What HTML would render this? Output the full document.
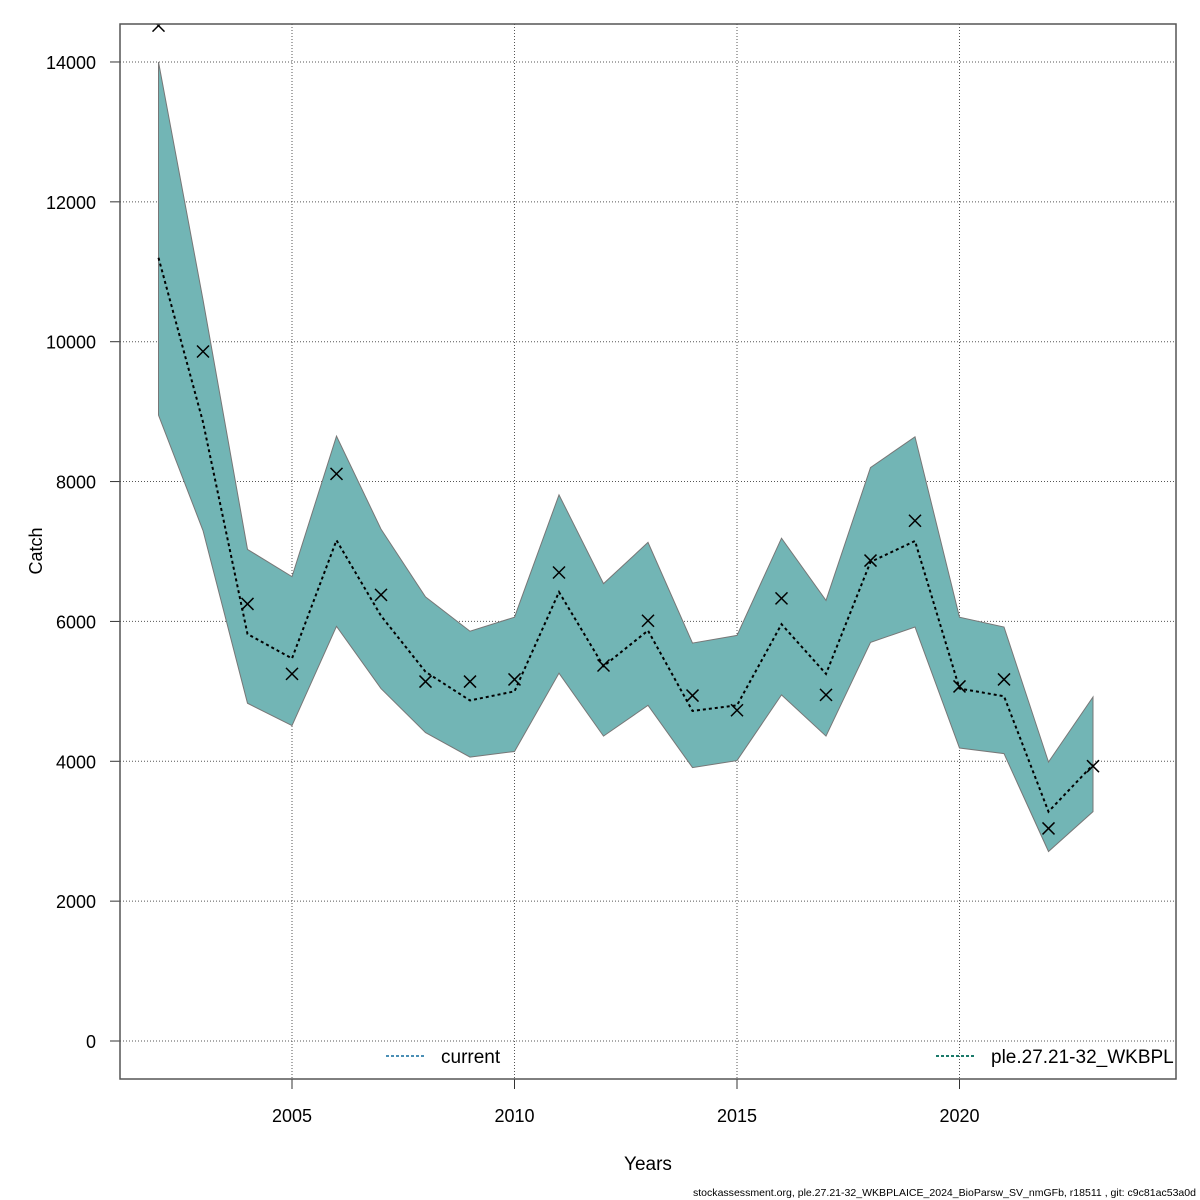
<!DOCTYPE html>
<html><head><meta charset="utf-8"><style>body{margin:0;background:#fff}svg{display:block}text{font-family:"Liberation Sans",sans-serif}</style></head>
<body>
<svg id="s" width="1200" height="1200" xmlns="http://www.w3.org/2000/svg"></svg>
<script>
const s=document.getElementById('s');
const X=y=>158.5+(y-2002)*44.5, Y=v=>1041-v*0.06993;
const up=[14000,10600,7030,6640,8650,7320,6350,5860,6060,7810,6540,7130,5690,5800,7190,6300,8200,8640,6060,5920,3990,4920];
const lo=[8950,7300,4830,4510,5930,5040,4410,4060,4140,5260,4360,4800,3910,4010,4950,4360,5700,5920,4190,4110,2710,3280];
const md=[11200,8850,5820,5470,7160,6080,5280,4870,5000,6420,5360,5870,4720,4800,5960,5250,6850,7150,5040,4930,3280,3950];
const ob=[14520,9860,6250,5250,8110,6380,5140,5140,5170,6700,5370,6010,4940,4730,6330,4950,6870,7440,5070,5170,3040,3930];
let h='<defs><clipPath id="c"><rect x="120" y="24" width="1056" height="1055"/></clipPath></defs>';
for(let v=0;v<=14000;v+=2000){const y=Y(v);h+=`<line x1="120" x2="1176" y1="${y}" y2="${y}" stroke="#555" stroke-dasharray="1,2"/><line x1="110" x2="120" y1="${y}" y2="${y}" stroke="#333"/><text x="96" y="${y+7}" font-size="18" text-anchor="end">${v}</text>`;}
for(let yr=2005;yr<=2020;yr+=5){const x=X(yr);h+=`<line x1="${x}" x2="${x}" y1="24" y2="1079" stroke="#555" stroke-dasharray="1,2"/><line x1="${x}" x2="${x}" y1="1079" y2="1089" stroke="#333"/><text x="${x}" y="1122" font-size="18" text-anchor="middle">${yr}</text>`;}
let p=up.map((v,i)=>`${X(2002+i)},${Y(v)}`).concat(lo.map((v,i)=>`${X(2002+i)},${Y(v)}`).reverse()).join(' ');
h+=`<polygon points="${p}" fill="#72b5b5" stroke="#777" stroke-width="1"/>`;
h+=`<polyline points="${md.map((v,i)=>X(2002+i)+','+Y(v)).join(' ')}" fill="none" stroke="#000" stroke-width="2" stroke-dasharray="3,3"/>`;
h+='<g clip-path="url(#c)" stroke="#000" stroke-width="1.5">';
ob.forEach((v,i)=>{const x=X(2002+i),y=Y(v);h+=`<line x1="${x-6}" y1="${y-6}" x2="${x+6}" y2="${y+6}"/><line x1="${x-6}" y1="${y+6}" x2="${x+6}" y2="${y-6}"/>`;});
h+='</g>';
h+='<rect x="120" y="24" width="1056" height="1055" fill="none" stroke="#555" stroke-width="1.5"/>';
h+='<g clip-path="url(#c)"><line x1="386" x2="424" y1="1056" y2="1056" stroke="#4a8fb5" stroke-width="2" stroke-dasharray="3,2"/><text x="441" y="1063" font-size="19">current</text>';
h+='<line x1="936" x2="974" y1="1056" y2="1056" stroke="#1a7a6a" stroke-width="2" stroke-dasharray="3,2"/><text x="991" y="1063" font-size="19">ple.27.21-32_WKBPL</text></g>';
h+='<text x="648" y="1170" font-size="19" text-anchor="middle">Years</text>';
h+='<text transform="translate(42,551) rotate(-90)" font-size="18" text-anchor="middle">Catch</text>';
h+='<text x="693" y="1196" font-size="10.5" textLength="503" lengthAdjust="spacingAndGlyphs">stockassessment.org, ple.27.21-32_WKBPLAICE_2024_BioParsw_SV_nmGFb, r18511 , git: c9c81ac53a0d</text>';
s.innerHTML=h;
</script>
</body></html>
